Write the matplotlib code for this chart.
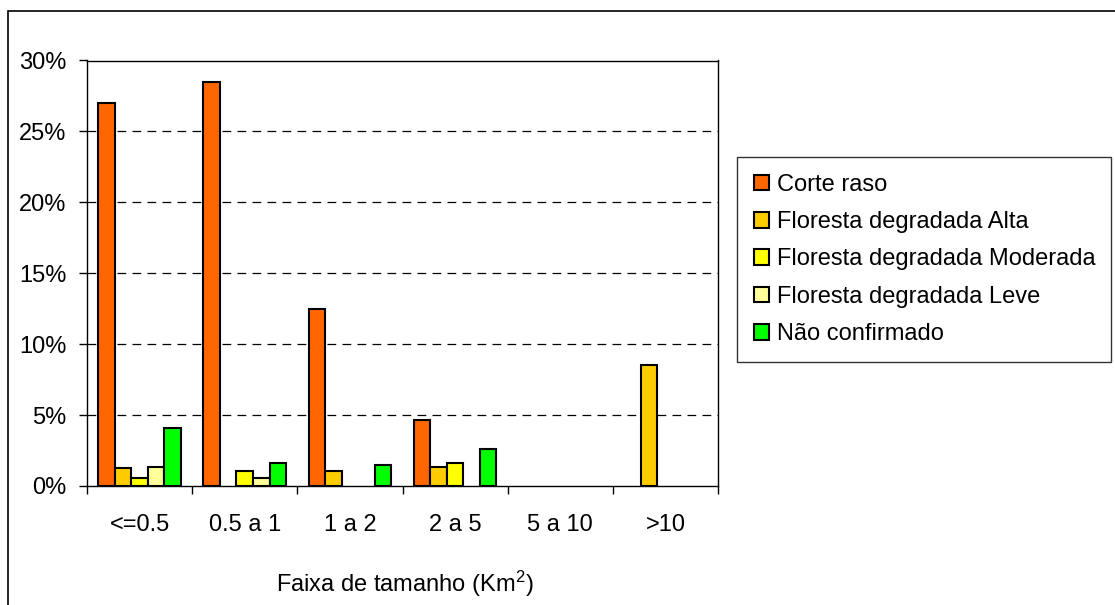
import matplotlib
matplotlib.use('Agg')
import matplotlib.pyplot as plt
from matplotlib.patches import Rectangle
from matplotlib.ticker import PercentFormatter
import numpy as np

plt.rcParams['font.family'] = ['Liberation Sans', 'DejaVu Sans']
plt.rcParams['mathtext.default'] = 'regular'

# size classes (km2)
categories = ['<=0.5', '0.5 a 1', '1 a 2', '2 a 5', '5 a 10', '>10']

# shares per class
corte_raso = [0.270, 0.285, 0.125, 0.0465, 0.0, 0.0]
degr_alta = [0.0125, 0.0, 0.0106, 0.0136, 0.0, 0.085]
degr_moderada = [0.0054, 0.0106, 0.0, 0.0164, 0.0, 0.0]
degr_leve = [0.0136, 0.0054, 0.0, 0.0, 0.0, 0.0]
nao_confirmado = [0.041, 0.0164, 0.0148, 0.026, 0.0, 0.0]

series = [
    ('Corte raso', corte_raso, '#FF6600'),
    ('Floresta degradada Alta', degr_alta, '#FFCC00'),
    ('Floresta degradada Moderada', degr_moderada, '#FFFF00'),
    ('Floresta degradada Leve', degr_leve, '#FFFF99'),
    ('Não confirmado', nao_confirmado, '#00FF00'),
]

fs = 17

fig = plt.figure(figsize=(11.15, 6.05), dpi=100)
ax = fig.add_axes([0.078, 0.1967, 0.566, 0.7033])

centers = np.arange(len(categories)) + 0.5
bw = 0.157
for j, (name, vals, col) in enumerate(series):
    vals = np.array(vals)
    # empty bars get no outline so they don't thicken the axis
    lw = np.where(vals > 0, 1.5, 0)
    ax.bar(centers + (j - 2) * bw, vals, width=bw, color=col,
           edgecolor='black', linewidth=lw, label=name, zorder=3)

ax.set_xlim(0, len(categories))
ax.set_ylim(0, 0.30)
ax.set_yticks(np.arange(0, 0.301, 0.05))
ax.yaxis.set_major_formatter(PercentFormatter(1.0, decimals=0))

# group boundaries as major ticks, names on minor ticks
ax.set_xticks(np.arange(len(categories) + 1))
ax.set_xticklabels([])
ax.set_xticks(centers, minor=True)
ax.set_xticklabels(categories, minor=True)
ax.tick_params(axis='x', which='major', length=6, width=1, direction='out')
ax.tick_params(axis='x', which='minor', length=0, pad=20, labelsize=fs)
ax.tick_params(axis='y', length=6, width=1, direction='out', pad=9, labelsize=fs)

for y in np.arange(0.05, 0.26, 0.05):
    ax.axhline(y, color='black', linewidth=0.9, dashes=(7, 5), zorder=1)

for s in ax.spines.values():
    s.set_linewidth(1)
    s.set_color('black')

fig.text(0.363, 1 - 584 / 605, 'Faixa de tamanho (Km$^2$)', ha='center',
         va='center', fontsize=fs)

leg = ax.legend(loc='center left', bbox_to_anchor=(0.661, 1 - 362 / 605, 0.335, 205 / 605),
                bbox_transform=fig.transFigure, mode='expand', fontsize=fs,
                frameon=True, fancybox=False, shadow=False, borderaxespad=0,
                handlelength=0.65, handleheight=0.65, handletextpad=0.35,
                labelspacing=0.65, borderpad=0.7)
leg.get_frame().set_edgecolor('black')
leg.get_frame().set_linewidth(1)

# outer chart border
fig.add_artist(Rectangle((8 / 1115, -0.1), 1.2, 1.1 - 11 / 605, transform=fig.transFigure,
                         fill=False, edgecolor='black', linewidth=1.2))

fig.savefig('out.png', dpi=100)
